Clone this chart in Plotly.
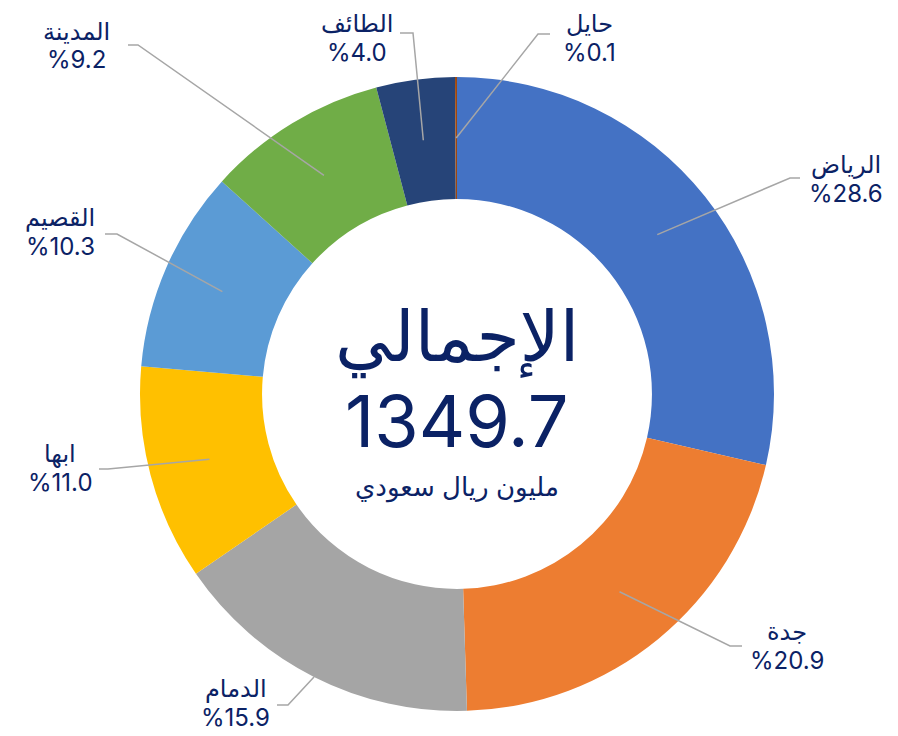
import math
import plotly.graph_objects as go

# ---------------- data ----------------
regions = ["الرياض", "جدة", "الدمام", "ابها", "القصيم", "المدينة", "الطائف", "حايل"]
shares = [28.6, 20.9, 15.9, 11.0, 10.3, 9.2, 4.0, 0.1]
total_value = 1349.7
center_title = "الإجمالي"
center_unit = "مليون ريال سعودي"

# ---------------- style / layout ----------------
colors = ["#4472C4", "#ED7D31", "#A5A5A5", "#FFC000", "#5B9BD5", "#70AD47", "#264478", "#9E480E"]
TEXT_COLOR = "#0B2265"
LINE_COLOR = "#A6A6A6"
FONT = "Inter, DejaVu Sans, sans-serif"

PAGE_OFF = 8               # default body margin of the page
W, H = 898 - PAGE_OFF, 736 - PAGE_OFF
CX, CY = 457, 394          # pie centre in page px
R_OUT = 317                # outer radius in px
HOLE = 0.615
R_MID = R_OUT * (1 + HOLE) / 2

# label layout (page px): leader start radius, elbow point, horizontal end x, text centre (x, y)
label_layout = [
    dict(r=R_MID, elbow=(790, 178), end=800, tx=846, ty=179),
    dict(r=R_MID, elbow=(730, 646), end=742, tx=787, ty=646),
    dict(r=R_OUT, elbow=(288, 705), end=277, tx=236, ty=703),
    dict(r=R_MID, elbow=(108, 469), end=99, tx=60, ty=468),
    dict(r=R_MID, elbow=(117, 234), end=105, tx=60, ty=233),
    dict(r=R_MID, elbow=(138, 45), end=128, tx=76, ty=46),
    dict(r=R_MID, elbow=(413, 33), end=400, tx=357, ty=38),
    dict(r=R_MID, elbow=(538, 34), end=550, tx=589, ty=38),
]


def px(x):
    return (x - PAGE_OFF) / W


def py(y):
    return 1 - (y - PAGE_OFF) / H


fig = go.Figure(go.Pie(
    labels=regions,
    values=shares,
    hole=HOLE,
    sort=False,
    direction="clockwise",
    rotation=0,
    marker=dict(colors=colors, line=dict(width=0)),
    textinfo="none",
    hoverinfo="label+percent",
    showlegend=False,
    domain=dict(x=[px(CX - R_OUT), px(CX + R_OUT)],
                y=[py(CY + R_OUT), py(CY - R_OUT)]),
))

shapes = []
annotations = []
total = sum(shares)
cum = 0.0
for name, v, lay in zip(regions, shares, label_layout):
    mid = (cum + v / 2) / total * 2 * math.pi
    cum += v
    sx = CX + lay["r"] * math.sin(mid)
    sy = CY - lay["r"] * math.cos(mid)
    ex, ey = lay["elbow"]
    path = f"M {px(sx)} {py(sy)} L {px(ex)} {py(ey)} L {px(lay['end'])} {py(ey)}"
    shapes.append(dict(type="path", xref="paper", yref="paper", path=path,
                       line=dict(color=LINE_COLOR, width=1.5)))
    annotations.append(dict(
        x=px(lay["tx"]), y=py(lay["ty"] - 15), xref="paper", yref="paper",
        text=name, showarrow=False, xanchor="center", yanchor="middle",
        font=dict(family=FONT, size=24, color=TEXT_COLOR),
    ))
    annotations.append(dict(
        x=px(lay["tx"]), y=py(lay["ty"] + 14), xref="paper", yref="paper",
        text=f"%{v:.1f}", showarrow=False, xanchor="center", yanchor="middle",
        font=dict(family=FONT, size=24, color=TEXT_COLOR),
    ))

annotations += [
    dict(x=px(CX), y=py(336), xref="paper", yref="paper", text=center_title,
         showarrow=False, xanchor="center", yanchor="middle",
         font=dict(family=FONT, size=70, color=TEXT_COLOR)),
    dict(x=px(CX), y=py(420), xref="paper", yref="paper", text=f"{total_value:.1f}",
         showarrow=False, xanchor="center", yanchor="middle",
         font=dict(family=FONT, size=72, color=TEXT_COLOR)),
    dict(x=px(CX), y=py(487), xref="paper", yref="paper", text=center_unit,
         showarrow=False, xanchor="center", yanchor="middle",
         font=dict(family=FONT, size=26, color=TEXT_COLOR)),
]

fig.update_layout(
    width=W, height=H,
    margin=dict(l=0, r=0, t=0, b=0),
    paper_bgcolor="white", plot_bgcolor="white",
    shapes=shapes, annotations=annotations,
)

fig.write_html("out.html")
